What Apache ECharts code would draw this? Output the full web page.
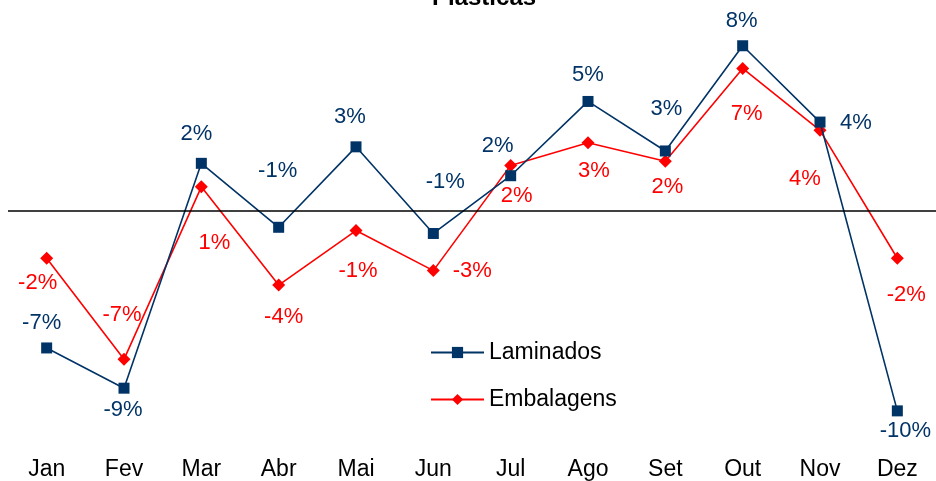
<!DOCTYPE html>
<html>
<head>
<meta charset="utf-8">
<script src="https://cdn.jsdelivr.net/npm/echarts@6/dist/echarts.min.js"></script>
<style>
  html, body { margin: 0; padding: 0; background: #fff; }
  #main { width: 936px; height: 481px; }
</style>
</head>
<body>
<div id="main"></div>
<script>
var months = ['Jan', 'Fev', 'Mar', 'Abr', 'Mai', 'Jun', 'Jul', 'Ago', 'Set', 'Out', 'Nov', 'Dez'];
var laminados = [-6.65, -8.6, 2.3, -0.8, 3.1, -1.1, 1.7, 5.3, 2.9, 8.0, 4.3, -9.7];
var embalagens = [-2.3, -7.2, 1.16, -3.6, -0.96, -2.9, 2.2, 3.3, 2.4, 6.9, 3.9, -2.3];

// label offsets from the marker (px), as placed in the original
var lamOffsets = [[-5,-25],[-1,22],[-5,-29],[-1,-56],[-6,-30],[12,-52],[-13,-30],[0,-27],[1,-42],[-1,-25],[36,1],[8,20]];
var embOffsets = [[-9,25],[-2,-44],[13,56],[5,32],[2,40],[39,0],[6,31],[6,28],[2,26],[4,45],[-15,49],[9,37]];

var FONT = '"Liberation Sans", Arial, sans-serif';
var NAVY = '#003366';
var RED = '#FF0000';

function withLabels(values, offsets) {
  return values.map(function (v, i) {
    return { value: v, label: { offset: offsets[i] } };
  });
}

var chart = echarts.init(document.getElementById('main'));
chart.setOption({
  animation: false,
  title: {
    text: 'Plásticas',
    left: 427,
    top: -19,
    textStyle: { fontFamily: FONT, fontSize: 24, fontWeight: 'bold', color: '#000' }
  },
  legend: {
    orient: 'vertical',
    left: 425,
    top: 336,
    itemWidth: 53,
    itemHeight: 14,
    itemGap: 24,
    textStyle: { fontFamily: FONT, fontSize: 23, color: '#000' },
    data: ['Laminados', 'Embalagens']
  },
  grid: { left: 8, right: 0, top: 4.5, bottom: 30.4 },
  xAxis: {
    type: 'category',
    data: months,
    boundaryGap: true,
    axisLine: { show: false },
    axisTick: { show: false },
    axisLabel: { fontFamily: FONT, fontSize: 23, color: '#000', margin: 10 }
  },
  yAxis: {
    type: 'value',
    min: -11.5,
    max: 10,
    show: false,
    splitLine: { show: false }
  },
  series: [
    {
      name: 'Laminados',
      type: 'line',
      data: withLabels(laminados, lamOffsets),
      symbol: 'rect',
      symbolSize: 11,
      itemStyle: { color: NAVY },
      lineStyle: { color: NAVY, width: 1.6 },
      label: {
        show: true,
        position: 'inside',
        fontFamily: FONT,
        fontSize: 22,
        color: NAVY,
        formatter: function (p) { return Math.round(p.value) + '%'; }
      },
      markLine: {
        silent: true,
        symbol: 'none',
        label: { show: false },
        lineStyle: { color: '#000', width: 1.5, type: 'solid' },
        data: [{ yAxis: 0 }]
      },
      z: 3
    },
    {
      name: 'Embalagens',
      type: 'line',
      data: withLabels(embalagens, embOffsets),
      symbol: 'diamond',
      symbolSize: 13,
      itemStyle: { color: RED },
      lineStyle: { color: RED, width: 1.6 },
      label: {
        show: true,
        position: 'inside',
        fontFamily: FONT,
        fontSize: 22,
        color: RED,
        formatter: function (p) { return Math.round(p.value) + '%'; }
      },
      z: 2
    }
  ]
});
</script>
</body>
</html>
